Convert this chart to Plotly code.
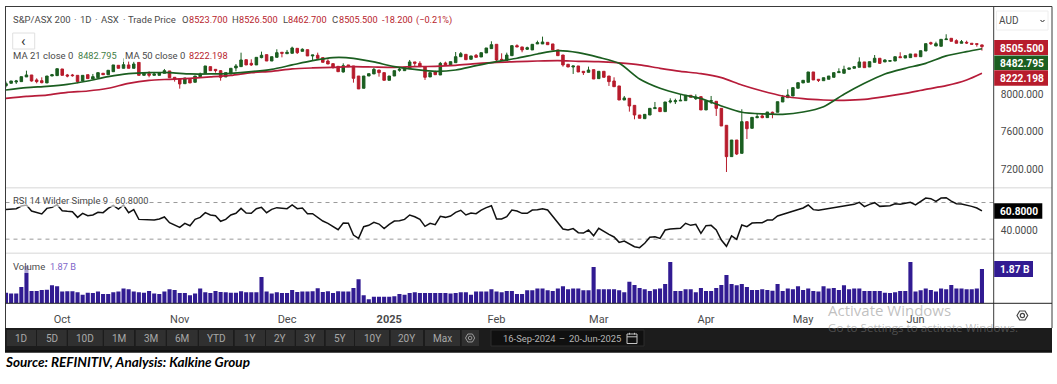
import plotly.graph_objects as go

W, H = 1057, 384

opens = [8089,8114,8128,8132,8182,8203,8150,8142,8118,8192,
 8196,8267,8203,8203,8199,8139,8206,8160,8174,8221,
 8206,8238,8306,8274,8310,8274,8338,8199,8217,8199,
 8199,8221,8246,8178,8160,8110,8157,8125,8185,8221,
 8292,8263,8249,8182,8214,8278,8292,8366,8327,8310,
 8388,8420,8352,8391,8445,8430,8434,8487,8455,8473,
 8406,8413,8388,8352,8324,8295,8235,8310,8299,8192,
 8061,8192,8214,8256,8228,8146,8192,8253,8249,8270,
 8342,8327,8288,8182,8235,8203,8331,8306,8334,8398,
 8423,8370,8413,8395,8438,8484,8530,8370,8356,8409,
 8516,8502,8477,8470,8534,8534,8551,8534,8470,8416,
 8317,8288,8299,8242,8231,8260,8164,8242,8192,8139,
 8086,7936,7954,7879,7776,7737,7776,7844,7854,7812,
 7915,7918,7926,7929,7986,7950,7972,7830,7922,7922,
 7847,7666,7332,7509,7367,7705,7634,7748,7766,7748,
 7805,7805,7915,7961,7979,8061,8118,8125,8235,8157,
 8142,8157,8178,8228,8221,8263,8274,8285,8342,8288,
 8338,8381,8342,8349,8352,8398,8384,8388,8427,8398,
 8459,8548,8512,8509,8580,8594,8569,8541,8551,8541,
 8537,8523.7]
closes = [8110,8139,8139,8185,8203,8139,8132,8121,8192,8206,
 8270,8199,8192,8196,8132,8199,8164,8185,8228,8206,
 8253,8310,8274,8313,8274,8320,8199,8221,8199,8214,
 8228,8249,8174,8160,8107,8171,8118,8192,8214,8299,
 8249,8249,8178,8228,8274,8299,8363,8310,8310,8391,
 8413,8352,8398,8441,8434,8445,8491,8441,8477,8406,
 8416,8381,8338,8320,8285,8238,8302,8292,8167,8054,
 8192,8217,8263,8228,8146,8192,8249,8263,8281,8342,
 8327,8292,8178,8228,8206,8327,8310,8345,8398,8430,
 8366,8406,8391,8441,8491,8526,8363,8363,8416,8516,
 8502,8470,8494,8530,8548,8555,8526,8470,8409,8310,
 8288,8299,8235,8228,8256,8160,8242,8178,8132,8078,
 7936,7958,7872,7776,7741,7783,7847,7854,7812,7915,
 7926,7929,7933,7986,7965,7968,7830,7929,7929,7847,
 7659,7332,7509,7360,7705,7630,7751,7758,7748,7808,
 7794,7918,7968,7989,8068,8121,8146,8235,8150,8146,
 8174,8192,8228,8238,8263,8278,8292,8342,8281,8345,
 8381,8327,8363,8356,8398,8388,8409,8427,8398,8462,
 8537,8537,8537,8583,8587,8562,8541,8558,8544,8530,
 8530,8505.5]
highs = [8132,8139,8150,8185,8249,8203,8167,8178,8192,8214,
 8270,8267,8214,8214,8199,8199,8206,8214,8228,8221,
 8253,8310,8306,8381,8352,8345,8338,8221,8242,8235,
 8228,8267,8246,8178,8160,8171,8157,8192,8228,8299,
 8292,8263,8256,8228,8274,8320,8441,8366,8370,8391,
 8452,8420,8398,8477,8445,8470,8505,8487,8487,8473,
 8416,8441,8388,8370,8324,8295,8327,8310,8299,8192,
 8192,8217,8281,8256,8228,8192,8249,8281,8281,8363,
 8342,8349,8288,8228,8249,8342,8345,8345,8448,8448,
 8423,8406,8427,8441,8491,8562,8530,8434,8441,8516,
 8530,8502,8505,8530,8569,8612,8551,8534,8470,8416,
 8317,8299,8299,8242,8292,8260,8242,8242,8192,8178,
 8086,7979,7954,7879,7776,7783,7847,7915,7854,7915,
 7954,7950,7989,7986,7986,7996,7972,7929,7979,7922,
 7847,7666,7509,7509,7837,7705,7751,7787,7794,7808,
 7812,7918,7990,8050,8068,8121,8146,8235,8235,8157,
 8174,8192,8228,8274,8302,8278,8292,8391,8342,8345,
 8416,8381,8370,8356,8398,8445,8409,8427,8427,8462,
 8537,8558,8558,8583,8637,8594,8583,8576,8569,8541,
 8537,8526.5]
lows = [8071,8114,8107,8132,8182,8132,8114,8114,8118,8192,
 8196,8199,8178,8185,8114,8139,8164,8160,8174,8206,
 8206,8238,8274,8274,8274,8274,8199,8199,8178,8199,
 8199,8221,8174,8132,8057,8110,8118,8125,8178,8221,
 8249,8228,8142,8182,8214,8242,8292,8310,8299,8310,
 8381,8352,8352,8391,8391,8430,8434,8427,8455,8406,
 8363,8377,8338,8320,8270,8238,8228,8292,8121,8054,
 8061,8192,8214,8185,8146,8146,8192,8238,8249,8270,
 8299,8292,8150,8182,8206,8203,8310,8306,8334,8398,
 8366,8370,8391,8395,8438,8484,8345,8363,8356,8409,
 8502,8445,8470,8470,8534,8534,8526,8470,8409,8292,
 8288,8214,8235,8203,8231,8160,8164,8178,8086,8078,
 7936,7936,7812,7730,7741,7737,7776,7844,7812,7812,
 7900,7893,7926,7929,7965,7936,7830,7830,7893,7766,
 7659,7168,7332,7349,7367,7520,7634,7741,7741,7748,
 7741,7805,7915,7961,7979,8061,8118,8125,8150,8128,
 8142,8157,8178,8228,8221,8263,8274,8285,8281,8288,
 8338,8320,8342,8349,8352,8388,8384,8388,8398,8398,
 8459,8523,8512,8509,8580,8562,8541,8541,8534,8530,
 8505,8462.7]

ma_index = [0,4,8,12,16,20,24,28,32,36,40,44,48,52,56,60,64,68,72,76,80,84,88,92,96,100,
            104,108,112,116,120,124,128,132,136,140,144,148,152,156,160,164,168,172,176,180,184,188,191]
ma21 = [8043,8068,8082,8103,8139,8185,8217,8228,8228,8214,8214,8221,8238,8263,8310,8356,8388,8381,
        8342,8292,8263,8242,8256,8302,8345,8381,8427,8462,8441,8391,8327,8160,8061,7997,7950,7872,
        7805,7787,7783,7808,7865,7997,8114,8214,8274,8327,8406,8452,8482.795]
ma50 = [7954,7975,7989,8018,8032,8061,8114,8146,8157,8167,8182,8199,8228,8242,8267,8278,8285,8292,
        8288,8285,8292,8295,8306,8324,8338,8345,8352,8356,8349,8345,8331,8310,8274,8242,8217,8174,
        8096,8032,7979,7950,7936,7933,7943,7972,8007,8050,8089,8150,8222.198]

rsi = [62.5,62.5,63.3,66.2,67.3,60.7,58.9,57.5,63.6,64.7,
 67.6,61.1,60.4,60,53.8,58.2,55.6,56.4,59.3,58.9,
 63.6,66.9,62.9,67.3,58.9,62.2,51.6,51.6,51.3,50.9,
 52,54.2,48,45.5,42.9,47.3,44.7,51.6,53.8,58.9,
 56.4,55.6,49.5,51.6,56.4,58.2,63.6,58.5,58.2,63.3,
 64.7,58.9,62.5,64.4,63.6,63.3,67.3,63.3,64,57.8,
 57.8,54.2,49.8,47.3,43.6,40.4,47.6,47.3,34.5,30.9,
 43.6,45.1,48.4,46.5,41.5,46.2,49.8,50.2,51.6,56.4,
 54.5,51.6,44,47.3,45.8,54.9,53.8,55.3,59.3,61.5,
 56.4,58.5,57.8,61.8,64.4,66.5,52,52,54.5,61.8,
 60.7,58.2,58.2,61.8,62.2,63.3,61.8,54.5,47.3,41.1,
 40,41.5,37.1,36.7,40,33.8,41.8,38.2,35.3,32.4,
 26.5,28,25.1,21.8,20.7,25.5,32,32.7,30.9,40,
 41.1,41.5,41.8,47.3,45.1,46.2,36.4,44.7,45.1,40,
 29.1,22.2,33.5,29.8,45.5,43.6,47.6,48,48,50.9,
 50.9,55.3,57.1,58.5,60.7,62.9,64,67.3,62.2,61.5,
 62.5,63.3,64.7,65.1,66.5,67.3,68,70.2,65.5,68,
 69.8,65.8,66.5,66.5,68.7,68,69.1,70.2,67.3,70.9,
 74.9,74.2,71.3,74.9,75.3,71.6,68.7,68.4,67.3,65.8,
 64,60.8]
rsi_bands = [30, 70]

volume_b = [.58,.54,.54,.89,2.03,.67,.67,.73,.74,.98,
 .93,.64,.65,.65,.60,.47,.58,.56,.64,.51,
 .51,.60,.64,.80,.76,.64,.60,.58,.67,.53,
 .51,.64,.76,.73,.56,.56,.44,.54,.80,.60,
 .56,.67,.62,.60,.58,.58,.65,.60,.60,.60,
 1.43,.64,.54,.60,.56,.56,.73,.62,.64,.64,
 .65,.82,.62,.65,.56,.65,.64,.64,.84,1.31,
 .44,.22,.35,.35,.35,.35,.38,.51,.47,.56,
 .60,.56,.56,.56,.56,.56,.56,.53,.56,.60,
 .60,.47,.64,.64,.64,.76,.64,.60,.67,.67,
 .51,.51,.71,.71,.80,.80,.71,.67,.80,.93,
 .76,.80,.80,.71,.71,1.98,.76,.76,.76,.76,
 .71,.60,1.18,1.0,.84,.76,.67,.76,.80,1.05,
 2.25,.67,.67,.76,.76,.60,.84,.67,.67,.84,
 1.0,1.54,1.05,.98,1.05,.89,.73,.73,.76,.73,
 .69,1.05,.67,.80,.76,.93,.73,.80,.67,.64,
 .93,.80,.84,.73,.98,.76,.80,.80,.67,.67,
 .67,.67,.58,.56,.60,.67,.67,2.25,.64,.71,
 .80,.73,.64,.80,.76,1.0,.80,.80,.76,.76,
 .80,1.87]

month_index = [11,34,55,75,96,116,137,156,178]
month_labels = ["Oct","Nov","Dec","<b>2025</b>","Feb","Mar","Apr","May","Jun"]
price_ticks = [7200,7600,8000]
rsi_ticks = [40]
range_buttons = ["1D","5D","10D","1M","3M","6M","YTD","1Y","2Y","3Y","5Y","10Y","20Y","Max"]
button_edges = [(6.7,36),(37,66.7),(68,102.7),(104,134),(135.7,165.7),(167,197.7),(199,233),(234.7,265),
                (266,294.7),(296,324),(325.7,354),(355,389),(390.7,423),(425,460)]

assert all(len(a) == 192 for a in (opens, highs, lows, closes, rsi, volume_b))
assert len(ma_index) == len(ma21) == len(ma50)

GREEN, RED, PURPLE = "#1b5e20", "#b71c2c", "#311b92"
FONT = "Roboto"
TXT = "#4a4a4a"
idx = list(range(192))

px = lambda x: x / W
py = lambda y: 1 - y / H

fig = go.Figure()
fig.add_trace(go.Candlestick(x=idx, open=opens, high=highs, low=lows, close=closes, xaxis="x", yaxis="y",
    increasing=dict(line=dict(color=GREEN, width=1), fillcolor=GREEN),
    decreasing=dict(line=dict(color=RED, width=1), fillcolor=RED), whiskerwidth=0, showlegend=False))
fig.add_trace(go.Scatter(x=ma_index, y=ma50, mode="lines", xaxis="x", yaxis="y", showlegend=False,
    line=dict(color="#b71c3a", width=1.7, shape="spline", smoothing=0.7)))
fig.add_trace(go.Scatter(x=ma_index, y=ma21, mode="lines", xaxis="x", yaxis="y", showlegend=False,
    line=dict(color=GREEN, width=1.7, shape="spline", smoothing=0.7)))
fig.add_trace(go.Scatter(x=idx, y=rsi, mode="lines", xaxis="x2", yaxis="y2", showlegend=False,
    line=dict(color="#111111", width=1.5)))
fig.add_trace(go.Bar(x=idx, y=volume_b, xaxis="x3", yaxis="y3", showlegend=False,
    marker=dict(color=PURPLE, line=dict(width=0))))

shapes, annotations = [], []

def rect(x0, y0, x1, y1, fill="rgba(0,0,0,0)", line=None, lw=1):
    shapes.append(dict(type="rect", xref="paper", yref="paper", x0=px(x0), x1=px(x1), y0=py(y0), y1=py(y1),
                       fillcolor=fill, line=dict(color=line or "rgba(0,0,0,0)", width=lw if line else 0), layer="above"))

def seg(x0, y0, x1, y1, color, lw=1, dash=None):
    shapes.append(dict(type="line", xref="paper", yref="paper", x0=px(x0), x1=px(x1), y0=py(y0), y1=py(y1),
                       line=dict(color=color, width=lw, dash=dash or "solid"), layer="above"))

def label(x, y, text, size=11, color=TXT, anchor="left", family=FONT):
    annotations.append(dict(xref="paper", yref="paper", x=px(x), y=py(y), text=text, showarrow=False,
                            xanchor=anchor, yanchor="middle", align=anchor,
                            font=dict(family=family, size=size, color=color), borderpad=0, borderwidth=0))

def poly(points, color, lw=1):
    d = "M" + " L".join(f"{px(a):.5f},{py(b):.5f}" for a, b in points) + " Z"
    shapes.append(dict(type="path", xref="paper", yref="paper", path=d, line=dict(color=color, width=lw),
                       layer="above"))

# RSI band lines
for v in rsi_bands:
    shapes.append(dict(type="line", xref="x2", yref="y2", x0=-0.1, x1=193.3, y0=v, y1=v,
                       line=dict(color="#9a9a9a", width=1, dash="4px,4px"), layer="below"))

# translucent legend plates
rect(12, 49, 228, 62, "rgba(255,255,255,0.6)")
rect(12, 193, 148, 207, "rgba(255,255,255,0.6)")
rect(12, 259, 76, 273, "rgba(255,255,255,0.6)")

# frame and pane separators
rect(5.5, 187, 1052, 188.5, "#e4e4e4")
rect(5.5, 252.5, 1052, 254, "#e4e4e4")
seg(5, 6.5, 1052, 6.5, "#3a3a3a", 1.2)
seg(5.5, 6.5, 5.5, 328, "#3a3a3a", 1)
seg(1052, 6.5, 1052, 328, "#3a3a3a", 1)
seg(993.7, 6.5, 993.7, 328, "#3a3a3a", 1)
seg(5.5, 303.3, 1052, 303.3, "#222222", 1)

# toolbar
rect(5, 328, 1052, 352.5, "#1c1c1c")
rect(5, 350, 1052, 352.5, "#111111")
for name, (a, b) in zip(range_buttons, button_edges):
    rect(a, 330, b, 346, "#303030")
    label((a + b) / 2, 338.3, name, 10, "#a8a8a8", "center")
rect(461.7, 330, 479, 346, "#303030")
rect(491, 330, 644, 346, "#101010", "#2c2c2c")
label(503, 338.3, "16-Sep-2024", 9.4, "#b5b5b5")
label(562, 338.3, "–", 9.4, "#b5b5b5", "center")
label(569, 338.3, "20-Jun-2025", 9.4, "#b5b5b5")
# calendar glyph
rect(627, 334, 637, 343.5, line="#c4c4c4", lw=1)
seg(627, 336.8, 637, 336.8, "#c4c4c4")
seg(629.5, 332.8, 629.5, 334.5, "#c4c4c4")
seg(634.5, 332.8, 634.5, 334.5, "#c4c4c4")
# settings glyphs
poly([(465.5, 338), (467.8, 334), (472.4, 334), (474.7, 338), (472.4, 342), (467.8, 342)], "#9a9a9a")
shapes.append(dict(type="circle", xref="paper", yref="paper", x0=px(468.3), x1=px(471.9), y0=py(336.2), y1=py(339.8),
                   line=dict(color="#9a9a9a", width=1), layer="above"))
poly([(1017, 315.5), (1019.7, 311), (1025, 311), (1027.7, 315.5), (1025, 320), (1019.7, 320)], "#444444", 1.2)
shapes.append(dict(type="circle", xref="paper", yref="paper", x0=px(1020.3), x1=px(1024.5), y0=py(313.4), y1=py(317.6),
                   line=dict(color="#444444", width=1.2), layer="above"))

# back button + currency drop-down
shapes.append(dict(type="rect", xref="paper", yref="paper", x0=px(12.7), x1=px(34.7), y0=py(33), y1=py(49),
                   line=dict(color="#e0e0e0", width=1), fillcolor="#ffffff", layer="above"))
label(23.7, 40.5, "‹", 15, "#333333", "center")
shapes.append(dict(type="rect", xref="paper", yref="paper", x0=px(996.5), x1=px(1048), y0=py(11), y1=py(30),
                   line=dict(color="#eeeeee", width=1), fillcolor="#ffffff", layer="above"))
label(999, 20.5, "AUD", 10, TXT)
poly([(1040.5, 20), (1042.5, 22), (1044.5, 20), (1042.5, 22)], "#666666")

# price / RSI / volume badges
rect(994.2, 40, 1048, 55, RED)
rect(994.2, 55.5, 1048, 70, GREEN)
rect(994.2, 70.3, 1048, 85.7, RED)
rect(994.2, 203.3, 1042.3, 218.7, "#000000")
rect(994.2, 261, 1033, 277, PURPLE)
label(1000, 48, "<b>8505.500</b>", 10.2, "#ffffff")
label(1000, 63, "<b>8482.795</b>", 10.2, "#ffffff")
label(1000, 78, "<b>8222.198</b>", 10.2, "#ffffff")
label(1000, 211.2, "<b>60.8000</b>", 10.2, "#ffffff")
label(1000, 269.5, "<b>1.87 B</b>", 10.2, "#ffffff")

# header texts, placed piece by piece
LG, VAL = 9.5, 9.2
for x, t in [(12.7, "S&amp;P/ASX 200"), (74, "·"), (80, "1D"), (95, "·"), (100.7, "ASX"), (122.7, "·"),
             (128.4, "Trade Price"), (181.7, "O"), (232.3, "H"), (282.7, "L"), (331.7, "C")]:
    label(x, 19.5, t, LG)
for x, t in [(189, "8523.700"), (239.3, "8526.500"), (288.3, "8462.700"), (339, "8505.500"),
             (381.7, "-18.200"), (416, "(−0.21%)")]:
    label(x, 19.5, t, VAL, RED)
label(12.7, 55.5, "MA 21 close 0", LG)
label(78, 55.5, "8482.795", VAL, "#3f7d46")
label(124.7, 55.5, "MA 50 close 0", LG)
label(189, 55.5, "8222.198", VAL, RED)
label(12.7, 200.5, "RSI 14 Wilder Simple 9", LG)
label(115, 200.5, "60.8000", VAL)
label(12.7, 266.5, "Volume", LG)
label(50, 266.5, "1.87 B", VAL, "#7e67c9")
label(5, 362, "<b><i>Source: REFINITIV, Analysis: Kalkine Group</i></b>", 13.5, "#000000", family="Lato")

# desktop watermark visible in the screenshot
label(828, 310, "Activate Windows", 15, "rgba(130,130,130,0.5)", family="Open Sans")
label(828, 327, "Go to Settings to activate Windows.", 11.6, "rgba(130,130,130,0.5)", family="Open Sans")

xdom = [px(5.5), px(993.7)]
xr = [-0.1, 193.3]
xbase = dict(domain=xdom, range=xr, showgrid=False, zeroline=False, showline=False, fixedrange=True)
ybase = dict(side="right", showgrid=False, zeroline=False, showline=False, ticks="outside", ticklen=4,
             tickcolor="rgba(0,0,0,0)", tickfont=dict(family=FONT, size=10.2, color=TXT), fixedrange=True)

fig.update_layout(
    width=W, height=H, autosize=False, margin=dict(l=0, r=0, t=0, b=0),
    paper_bgcolor="#ffffff", plot_bgcolor="#ffffff", showlegend=False, bargap=0.2, font=dict(family=FONT),
    xaxis=dict(xbase, anchor="y", showticklabels=False, rangeslider=dict(visible=False)),
    xaxis2=dict(xbase, anchor="y2", showticklabels=False),
    xaxis3=dict(xbase, anchor="y3", tickmode="array", tickvals=month_index, ticktext=month_labels, ticks="outside",
                ticklen=5, tickcolor="rgba(0,0,0,0)", tickfont=dict(family=FONT, size=11, color=TXT)),
    yaxis=dict(ybase, domain=[py(187.5), py(7)], range=[7002.7, 8928], anchor="x", tickmode="array",
               tickvals=price_ticks, tickformat=".3f"),
    yaxis2=dict(ybase, domain=[py(253), py(188.5)], range=[14.9, 85.3], anchor="x2", tickmode="array",
                tickvals=rsi_ticks, tickformat=".4f"),
    yaxis3=dict(ybase, domain=[py(303.3), py(254)], range=[0, 2.685], anchor="x3", showticklabels=False, ticks=""),
    shapes=shapes, annotations=annotations,
)

fig.write_html("out.html", config={"displayModeBar": False},
               post_script="document.body.style.margin='0';document.body.style.overflow='hidden';")
